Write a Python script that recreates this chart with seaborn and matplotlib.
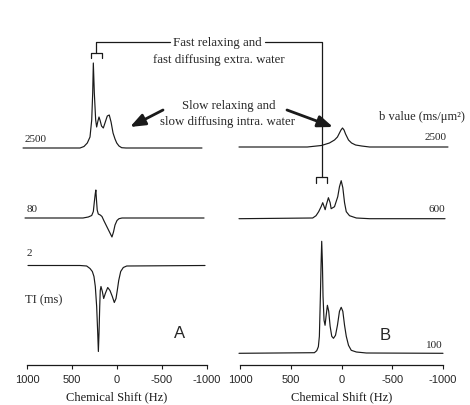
import matplotlib
matplotlib.use("Agg")
import matplotlib.pyplot as plt
from matplotlib.lines import Line2D
from matplotlib.patches import FancyArrowPatch
import seaborn as sns
import pandas as pd

# spectra: chemical shift (Hz) and intensity (a.u.)
# panel A, inversion recovery, TI (ms)
ti_labels = ["2500", "80", "2"]
a2500_hz = [1044, 522, 411, 367, 330, 300, 281, 270, 263, 252, 237, 226, 212, 200, 186, 172,
            152, 130, 108, 86, 66, 44, 22, 3, -22, -52, -100, -944]
a2500_amp = [0, 0, 0, 1.5, 5, 11, 28, 55, 85, 55, 28, 21, 27, 31, 27, 22,
             20, 26, 32, 33, 26, 15, 9, 5, 2, 0.3, 0, 0]
a80_hz = [1022, 378, 319, 281, 263, 252, 242, 235, 228, 220, 208, 186, 167, 144, 111, 78,
          56, 39, 22, 0, -22, -56, -967]
a80_amp = [0, 0, 1, 2.5, 6.5, 16, 24, 28, 18, 8, 4, 3, 1.5, -3, -9, -15,
           -19, -14, -7, -2.5, -0.7, 0, 0]
a2_hz = [989, 411, 337, 300, 274, 256, 241, 226, 214, 207, 200, 192, 186, 178, 163, 148,
         130, 103, 78, 52, 30, 11, -3, -19, -41, -70, -108, -978]
a2_amp = [0, 0, -0.5, -3, -6, -11, -21, -41, -68, -86, -68, -41, -25, -21, -26, -33,
          -28, -22, -25, -31, -37, -33, -25, -15, -6, -2, -0.5, 0]

# panel B, diffusion weighting, b value (ms/um2)
b_labels = ["2500", "600", "100"]
b2500_hz = [1010, 416, 337, 198, 119, 69, 40, 20, 5, -10, -25, -40, -69, -99, -139, -198, -277, -1049]
b2500_amp = [0, 0, 0, 1.5, 4, 7, 10, 14, 17, 19, 17, 13, 7, 4, 2, 1, 0, 0]
b600_hz = [1010, 284, 251, 225, 201, 185, 171, 161, 149, 129, 112, 102, 69, 37, 20, 3,
           -13, -30, -47, -79, -146, -277, -1020]
b600_amp = [0, 0.7, 3, 7, 12, 16, 12, 9, 14, 21, 16, 10, 12, 22, 32, 38,
            31, 16, 7, 3, 0.7, 0, 0]
b100_hz = [1010, 267, 244, 228, 218, 208, 201, 195, 188, 182, 172, 162, 152, 139, 126, 112,
           96, 79, 59, 40, 20, 3, -13, -30, -47, -69, -96, -146, -245, -1000]
b100_amp = [0, 0.6, 2.6, 6.6, 17, 57, 90, 112, 90, 57, 33, 28, 37, 48, 42, 27,
            17, 15, 18, 28, 42, 46, 42, 28, 17, 8, 3, 1.3, 0.3, 0]

ticks = [1000, 500, 0, -500, -1000]

W, H = 470, 405
sns.set_theme(style="white")
plt.rcParams["font.family"] = ["Liberation Serif", "DejaVu Serif"]

fig = plt.figure(figsize=(W / 100, H / 100), dpi=100)


def fx(x):
    return x / W


def fy(y):
    return 1 - y / H


def make_axes(x0, x1):
    ax = fig.add_axes([fx(x0), fy(365), fx(x1) - fx(x0), 365 / H])
    ax.set_xlim(1000, -1000)
    ax.set_ylim(0, 365)
    for s in ["left", "top", "right"]:
        ax.spines[s].set_visible(False)
    ax.spines["bottom"].set_color("k")
    ax.spines["bottom"].set_linewidth(0.9)
    ax.set_xticks(ticks)
    ax.set_xticklabels([str(t) for t in ticks], fontfamily="Liberation Sans", fontsize=8)
    ax.tick_params(axis="x", direction="out", length=3, width=0.8, color="k", pad=4.5, bottom=True)
    ax.set_yticks([])
    ax.patch.set_alpha(0)
    return ax


def draw(ax, hz, amp, offset):
    df = pd.DataFrame({"hz": hz, "y": [a + offset for a in amp]})
    sns.lineplot(data=df, x="hz", y="y", ax=ax, color="k", lw=0.85, sort=False,
                 estimator=None, clip_on=False)
    ax.set_xlabel("Chemical Shift (Hz)", fontsize=9, labelpad=4, color="k")
    ax.set_ylabel("")


axA = make_axes(27, 207)
axB = make_axes(240, 443)

draw(axA, a2500_hz, a2500_amp, 217)
draw(axA, a80_hz, a80_amp, 147)
draw(axA, a2_hz, a2_amp, 99.5)
draw(axB, b2500_hz, b2500_amp, 218)
draw(axB, b600_hz, b600_amp, 146.3)
draw(axB, b100_hz, b100_amp, 11.7)

# spectrum labels
fs = 8
for lab, y in zip(ti_labels, [140, 209, 253]):
    fig.text(fx(25 if lab == "2500" else 27), fy(y), lab, fontsize=fs, ha="left", va="center")
for lab, (x, y) in zip(b_labels, [(447, 138), (445, 210), (443, 345)]):
    fig.text(fx(x), fy(y), lab, fontsize=fs, ha="right", va="center")
fig.text(fx(25), fy(300), "TI (ms)", fontsize=9, ha="left", va="center")
fig.text(fx(379), fy(117), "b value (ms/\u03bcm\u00b2)", fontsize=9, ha="left", va="center")
fig.text(fx(180), fy(334), "A", fontsize=12, fontfamily="Liberation Sans", ha="center", va="center")
fig.text(fx(385), fy(335), "B", fontsize=12, fontfamily="Liberation Sans", ha="center", va="center")

# annotation texts
fig.text(fx(217), fy(43), "Fast relaxing and", fontsize=9.3, ha="center", va="center")
fig.text(fx(219), fy(60), "fast diffusing extra. water", fontsize=9.3, ha="center", va="center")
fig.text(fx(229), fy(106), "Slow relaxing and", fontsize=9.3, ha="center", va="center")
fig.text(fx(228), fy(122), "slow diffusing intra. water", fontsize=9.3, ha="center", va="center")


def seg(xs, ys):
    fig.add_artist(Line2D([fx(x) for x in xs], [fy(y) for y in ys], color="k", lw=0.9,
                          transform=fig.transFigure))


# bracket connectors
seg([91, 91, 102, 102], [58, 53, 53, 58])
seg([96, 96, 170], [53, 42, 42])
seg([265, 322, 322], [42, 42, 177])
seg([316, 316, 327, 327], [183, 177, 177, 183])

# arrows
for tail, head in [((163, 110), (130, 127)), ((287, 110), (333, 127))]:
    fig.add_artist(FancyArrowPatch(
        (fx(tail[0]), fy(tail[1])), (fx(head[0]), fy(head[1])),
        transform=fig.transFigure, arrowstyle="-|>,head_length=0.9,head_width=0.35",
        mutation_scale=10, lw=2, color="k", shrinkA=0, shrinkB=0))

fig.savefig("out.png", dpi=100)
